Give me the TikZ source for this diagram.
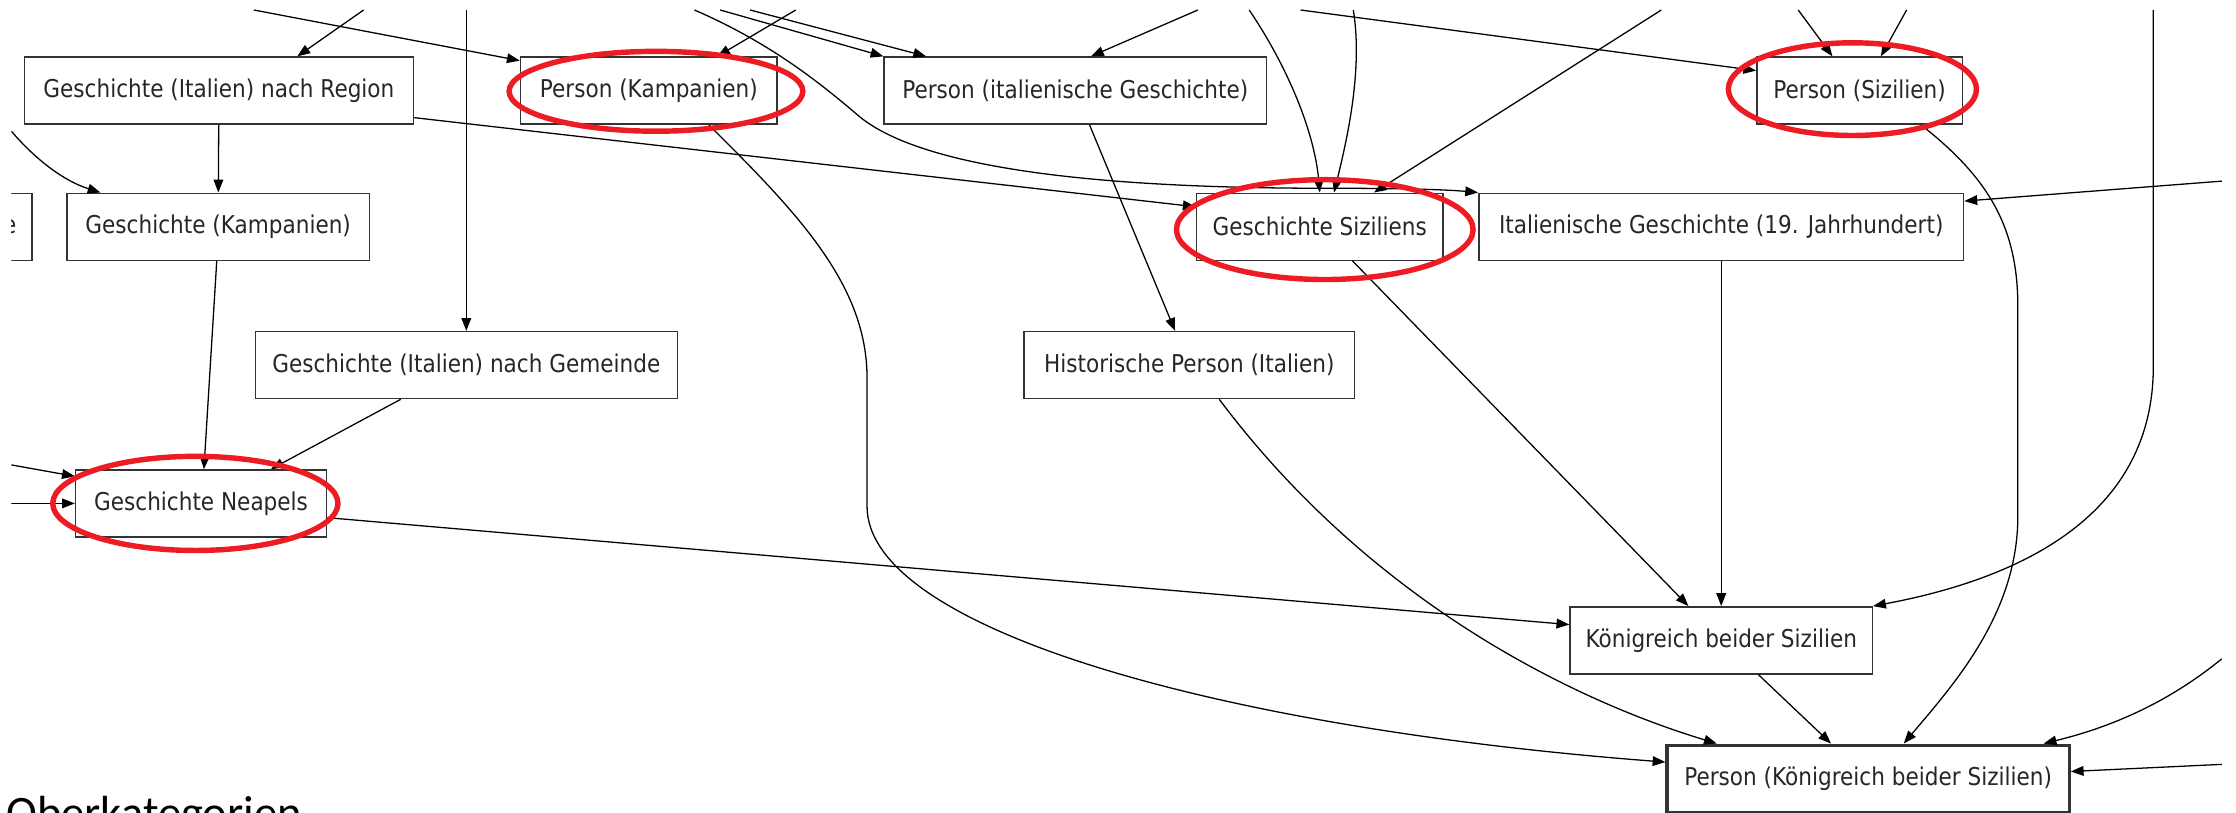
\documentclass[tikz,border=0pt]{standalone}
\usepackage{fontspec}
\newfontfamily\gvfont{DejaVu Sans}[FakeStretch=0.88]
\newfontfamily\pagefont{Carlito}
\definecolor{ringred}{RGB}{237,28,36}
\usetikzlibrary{arrows.meta,calc}

\begin{document}
\begin{tikzpicture}[x=0.5pt,y=-0.5pt,
  cat/.style={draw=black!80,line width=0.5pt,inner sep=0pt,minimum height=23.5pt,
    font=\gvfont\fontsize{8.6pt}{10pt}\selectfont,text=black!85},
  edge/.style={line width=0.45pt,-{Triangle[length=4.5pt,width=3.4pt]}},
  redring/.style={draw=ringred,line width=1.9pt}]
\useasboundingbox (0,0) rectangle (1568,570);
\clip (0,0) rectangle (1568,570);

\begin{scope}
\clip (8,7) rectangle (1558,570);
% categories
\node[cat,minimum width=136.5pt] (region) at (153.5,63.5) {Geschichte (Italien) nach Region};
\node[cat,minimum width=90pt] (perskamp) at (455,63.5) {Person (Kampanien)};
\node[cat,minimum width=134pt] (persital) at (754,63.5) {Person (italienische Geschichte)};
\node[cat,minimum width=72pt] (perssiz) at (1304,63.5) {Person (Sizilien)};
\node[cat,minimum width=43pt,text width=32pt,align=right,anchor=east] (cute) at (23,159) {e};
\node[cat,minimum width=106pt] (geschkamp) at (153,159) {Geschichte (Kampanien)};
\node[cat,minimum width=86.5pt] (geschsiz) at (925.5,159) {Geschichte Siziliens};
\node[cat,minimum width=170pt] (italgesch) at (1207,159) {Italienische Geschichte (19. Jahrhundert)};
\node[cat,minimum width=148pt] (gemeinde) at (327,256) {Geschichte (Italien) nach Gemeinde};
\node[cat,minimum width=116pt] (histpers) at (834,256) {Historische Person (Italien)};
\node[cat,minimum width=88pt] (neapel) at (141,353) {Geschichte Neapels};
\node[cat,minimum width=106pt] (koenig) at (1207,449) {Königreich beider Sizilien};
\node[cat,minimum width=141pt,line width=1.1pt] (perskoenig) at (1310,546) {Person (Königreich beider Sizilien)};

% loose ends at the border
\coordinate (top1) at (255,7);
\coordinate (top2) at (178,7);
\coordinate (top3) at (327,7);
\coordinate (top4) at (558,7);
\coordinate (top5) at (505,7);
\coordinate (top6) at (526,7);
\coordinate (top7) at (487,7);
\coordinate (top8) at (840,7);
\coordinate (top9) at (876,7);
\coordinate (top10) at (949,7);
\coordinate (top11) at (1165,7);
\coordinate (top12) at (912,7);
\coordinate (top13) at (1261,7);
\coordinate (top14) at (1337,7);
\coordinate (top15) at (1510,7);
\coordinate (left1) at (8,92);
\coordinate (left2) at (8,326);
\coordinate (left3) at (8,353);
\coordinate (right1) at (1558,127);
\coordinate (right2) at (1558,462);
\coordinate (right3) at (1558,536);

\draw[edge] (top1) -- ($(region.north)+(55,0)$);
\draw[edge] (top2) -- ($(perskamp.north west)+(0,3)$);
\draw[edge] (top3) -- (gemeinde.north);
\draw[edge] (top4) -- ($(perskamp.north)+(48,0)$);
\draw[edge] (top5) -- (persital.north west);
\draw[edge] (top6) -- ($(persital.north west)+(30,0)$);
\draw[edge] (top7) .. controls (540,30) and (575,58) .. (603,82) .. controls (650,120) and (780,132) .. (930,132) .. controls (985,132) and (1015,133) .. (italgesch.north west);
\draw[edge] (top8) -- ($(persital.north)+(11,0)$);
\draw[edge] (top9) .. controls (905,50) and (922,95) .. (geschsiz.north);
\draw[edge] (top10) .. controls (956,50) and (944,100) .. ($(geschsiz.north)+(10,0)$);
\draw[edge] (top11) -- ($(geschsiz.north)+(38,0)$);
\draw[edge] (top12) -- ($(perssiz.north west)+(0,10)$);
\draw[edge] (top13) -- ($(perssiz.north)+(-19,0)$);
\draw[edge] (top14) -- ($(perssiz.north)+(15,0)$);
\draw[edge] (top15) -- (1510,257) .. controls (1510,360) and (1420,405) .. (koenig.north east);
\draw[edge] (left1) .. controls (25,112) and (45,127) .. ($(geschkamp.north west)+(24,0)$);
\draw[edge] (left2) -- ($(neapel.north west)+(0,5)$);
\draw[edge] (left3) -- (neapel.west);
\draw[edge] (right1) -- ($(italgesch.north east)+(0,6)$);
\draw[edge] (right2) .. controls (1520,493) and (1480,510) .. ($(perskoenig.north east)+(-19,0)$);
\draw[edge] (right3) -- ($(perskoenig.east)+(0,-5)$);

% between the categories
\draw[edge] (region) -- (geschkamp);
\draw[edge] ($(region.south east)+(0,-5)$) -- ($(geschsiz.north west)+(0,10)$);
\draw[edge] ($(geschkamp.south)+(-1,0)$) -- ($(neapel.north)+(2,0)$);
\draw[edge] ($(gemeinde.south)+(-46,0)$) -- ($(neapel.north)+(49,0)$);
\draw[edge] ($(neapel.east)+(0,10)$) -- ($(koenig.west)+(0,-11)$);
\draw[edge] ($(perskamp.south)+(42,0)$) .. controls (560,150) and (608,200) .. (608,265) -- (608,355) .. controls (608,440) and (850,510) .. ($(perskoenig.north west)+(0,13)$);
\draw[edge] ($(persital.south)+(10,0)$) -- ($(histpers.north)+(-10,0)$);
\draw[edge] ($(histpers.south)+(21,0)$) .. controls (960,420) and (1100,490) .. ($(perskoenig.north west)+(36,0)$);
\draw[edge] ($(geschsiz.south)+(23,0)$) -- ($(koenig.north)+(-23,0)$);
\draw[edge] (italgesch) -- (koenig);
\draw[edge] ($(perssiz.south)+(43,0)$) .. controls (1395,125) and (1415,160) .. (1415,215) -- (1415,362) .. controls (1415,430) and (1370,480) .. ($(perskoenig.north)+(25,0)$);
\draw[edge] ($(koenig.south)+(26,0)$) -- ($(perskoenig.north)+(-26,0)$);
\end{scope}

% red marks
\draw[redring] (460,64) ellipse [x radius=51.5pt,y radius=14pt];
\draw[redring] (1299,62.5) ellipse [x radius=43.5pt,y radius=16.25pt];
\draw[redring] (929,161) ellipse [x radius=52pt,y radius=17.5pt];
\draw[redring] (137,353) ellipse [x radius=50pt,y radius=16.5pt];

\node[anchor=base west,inner sep=0pt,font=\pagefont\fontsize{16.3pt}{19pt}\selectfont] (oberkat) at (4,581) {Oberkategorien};
\end{tikzpicture}
\end{document}
